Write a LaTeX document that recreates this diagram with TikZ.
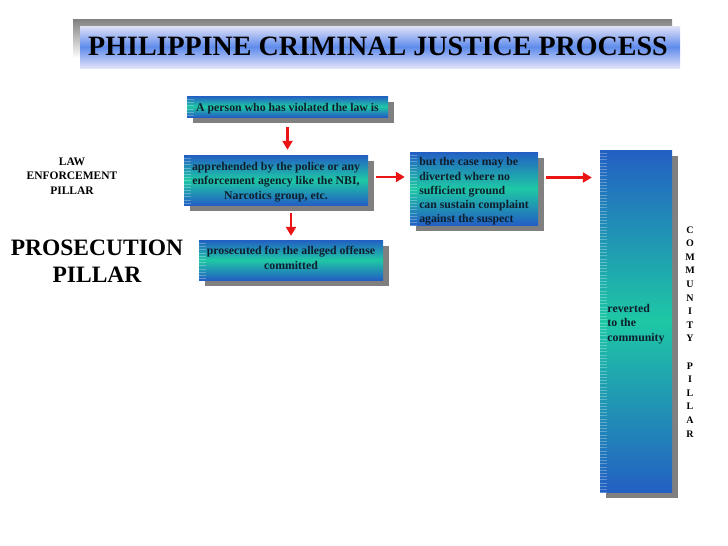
\documentclass[tikz,border=0pt]{standalone}
\usepackage{fontspec}
\setmainfont{Liberation Serif}
\usetikzlibrary{arrows.meta,shadows}
\definecolor{boxblue}{RGB}{35,95,195}
\definecolor{boxteal}{RGB}{30,200,165}
\definecolor{txt}{RGB}{15,30,45}
\definecolor{barblue}{RGB}{95,140,235}
\definecolor{barlight}{RGB}{225,225,248}
\definecolor{shade}{RGB}{128,128,128}
\definecolor{arrred}{RGB}{235,20,20}
\newcommand{\shiftc}[2]{\raisebox{#1}[\height][\depth]{\begin{tabular}{@{}c@{}}#2\end{tabular}}}
\newcommand{\shiftl}[2]{\raisebox{#1}[\height][\depth]{\begin{tabular}{@{}l@{}}#2\end{tabular}}}
\tikzset{
  pbox/.style={draw=none, top color=boxblue, bottom color=boxblue, middle color=boxteal,
    text=txt, font=\bfseries\fontsize{11.8}{14.2}\selectfont, inner sep=0pt,
    drop shadow={shadow xshift=6pt, shadow yshift=-6pt, fill=shade, opacity=1},
    path picture={\foreach \k in {1,...,110}{\draw[white, opacity=.28, line width=.6pt]
      ([yshift=-\k*3.2pt]path picture bounding box.north west) -- ++(7pt,0);}}},
  arr/.style={draw=arrred, line width=2.6pt, -{Triangle[length=9pt,width=10pt]}},
  lbl/.style={font=\bfseries, text=black, align=center}
}
\begin{document}
\begin{tikzpicture}[x=1pt,y=-1pt]
\useasboundingbox (0,0) rectangle (728,546);
% title
\fill[shade] (73,19) rectangle (672,58);
\shade[top color=barlight, bottom color=barlight, middle color=barblue] (80,26) rectangle (680,68);
\node[lbl, font=\bfseries\fontsize{28}{32}\selectfont] (title) at (378,46) {PHILIPPINE CRIMINAL JUSTICE PROCESS};
% boxes
\node[pbox, minimum width=201pt, minimum height=21pt] (b1) at (287.5,106.5) {\shiftc{-2pt}{A person who has violated the law is}};
\node[pbox, minimum width=184pt, minimum height=50pt] (b2) at (276,180) {\shiftc{-2pt}{apprehended by the police or any\\enforcement agency like the NBI,\\Narcotics group, etc.}};
\node[pbox, minimum width=128pt, minimum height=73pt] (b3) at (474,188.5) {\shiftl{-3pt}{but the case may be\\diverted where no\\sufficient ground\\can sustain complaint\\against the suspect}};
\node[pbox, minimum width=72pt, minimum height=342pt] (b4) at (636,321) {\shiftl{-3pt}{reverted\\to the\\community}};
\node[pbox, minimum width=184pt, minimum height=40pt] (b5) at (291,260) {\shiftc{0.8pt}{prosecuted for the alleged offense\\committed}};
% arrows
\draw[arr, shorten <=10pt, shorten >=5pt] (b1.south) -- (b1.south |- b2.north);
\draw[arr, shorten <=8pt, shorten >=5pt] ([yshift=3pt]b2.east) -- ([yshift=3pt]b2.east -| b3.west);
\draw[arr, shorten <=8pt, shorten >=8pt] ([yshift=11pt]b3.east) -- ([yshift=11pt]b3.east -| b4.west);
\draw[arr, shorten <=8pt, shorten >=4pt] (b2.south -| b5.north) -- (b5.north);
% side labels
\node[lbl, font=\bfseries\fontsize{11.5}{14.5}\selectfont] (law) at (72,176) {LAW\\ENFORCEMENT\\PILLAR};
\node[lbl, font=\bfseries\fontsize{23.5}{27}\selectfont] (pros) at (97,261) {PROSECUTION\\PILLAR};
\node[lbl, font=\bfseries\fontsize{10}{13.6}\selectfont, anchor=north] (comm) at (690,223) {C\\O\\M\\M\\U\\N\\I\\T\\Y\\[13.6pt]P\\I\\L\\L\\A\\R};
\end{tikzpicture}
\end{document}
